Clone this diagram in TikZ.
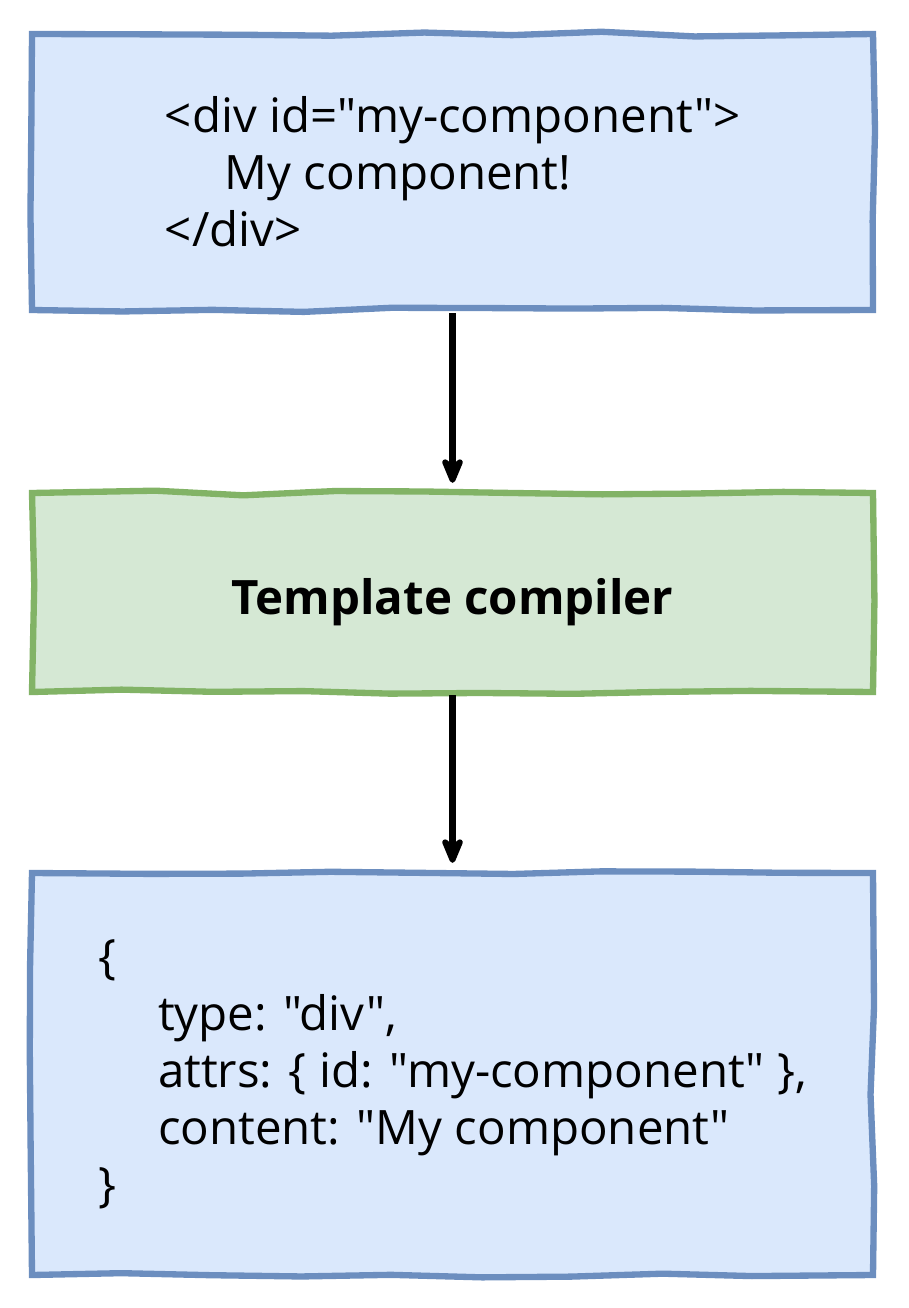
\documentclass[tikz,border=0pt]{standalone}
\usepackage{fontspec}
\setmainfont{Open Sans}[Ligatures=TeXOff]
\usepackage{tikz}
\usetikzlibrary{positioning,arrows.meta,decorations.pathmorphing}
\usepackage{xcolor}
\definecolor{bfill}{HTML}{DAE8FC}
\definecolor{bline}{HTML}{6C8EBF}
\definecolor{gfill}{HTML}{D5E8D4}
\definecolor{gline}{HTML}{82B366}
\tikzstyle{sketchy}=[decorate, decoration={random steps, segment length=0.9cm, amplitude=0.025cm}, line width=1.8pt, inner sep=0pt, font=\fontsize{13.5}{16.2}\selectfont]
\tikzstyle{bluebox}=[sketchy, draw=bline, fill=bfill, align=left, minimum width=8.41cm]
\tikzstyle{greenbox}=[sketchy, draw=gline, fill=gfill, minimum width=8.41cm]
\tikzstyle{l1}=[line width=1.9pt, -{Stealth[length=0.34cm, width=0.28cm, round]}, shorten >=0.07cm]

\begin{document}
\begin{tikzpicture}
    \pgfmathsetseed{42}
    \useasboundingbox (0,0) rectangle (9.08,-13.08);

    \node[bluebox, minimum height=2.76cm] at (4.525,-1.72) (src) {%
        <div id="my-component">\\
        \hspace*{0.6cm}My component!\\
        </div>};
    \node[greenbox, minimum height=1.99cm, text height=16pt, text depth=3.5pt, font=\fontsize{13.5}{16.2}\selectfont\bfseries] at (4.525,-5.925) (comp) {Template compiler};
    \node[bluebox, minimum height=4.02cm] at (4.525,-10.74) (out) {%
        \{\\
        \hspace*{0.6cm}type: "div",\\
        \hspace*{0.6cm}attrs: \{ id: "my-component" \},\\
        \hspace*{0.6cm}content: "My component"\\
        \}};

    \draw[l1] (src) -- (comp);
    \draw[l1] (comp) -- (out);

\end{tikzpicture}
\end{document}
